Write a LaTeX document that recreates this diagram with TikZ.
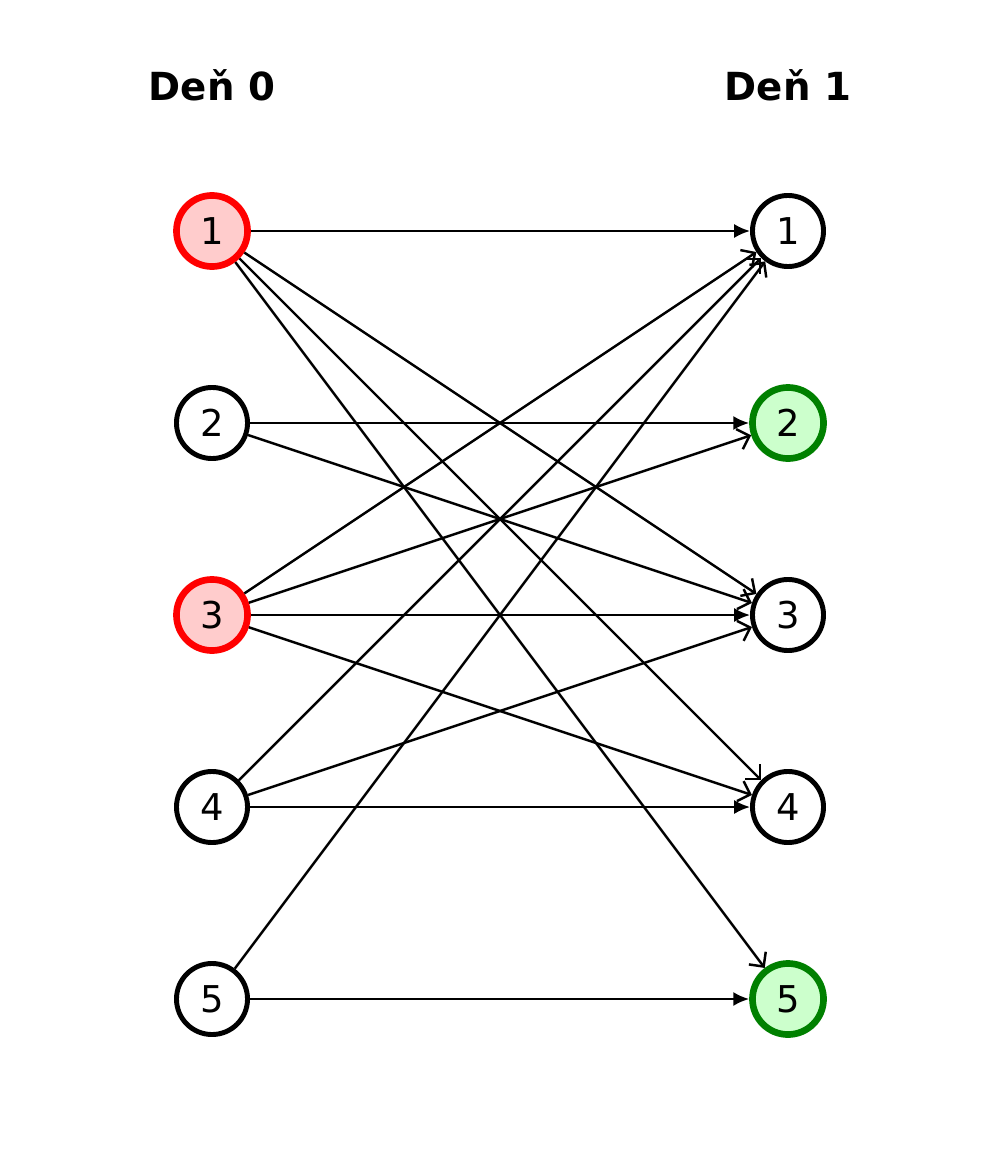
\documentclass[tikz,border=0pt]{standalone}
\usepackage{fontspec}
\setmainfont{DejaVu Sans}
\usetikzlibrary{arrows.meta,positioning}
\definecolor{redfill}{HTML}{FFCCCC}
\definecolor{greenfill}{HTML}{CCFFCC}
\definecolor{greenline}{HTML}{008000}

\begin{document}
\begin{tikzpicture}[x=0.01cm,y=-0.01cm,
        state/.style={
          circle, draw, line width=1.4pt,
          minimum size=0.71cm, inner sep=0pt,
          fill=white, font=\fontsize{10.5}{12}\selectfont
        },
        source/.style={state, draw=red, fill=redfill, line width=1.9pt},
        target/.style={state, draw=greenline, fill=greenfill, line width=1.9pt},
        flat/.style={-{Latex[length=4.5pt,width=4pt]}, line width=0.7pt},
        slant/.style={-{Straight Barb[length=3pt,width=6pt]}, line width=0.7pt},
        title/.style={font=\fontsize{11}{14}\selectfont\bfseries}
      ]
        \useasboundingbox (0,0) rectangle (1000,1173);

        % Day headers
        \node (day0) [title] at (212,85) {Deň 0};
        \node (day1) [title] at (788,85) {Deň 1};

        % Day 0 states
        \node (a1) [source] at (212,231) {1};
        \node (a2) [state]  at (212,423) {2};
        \node (a3) [source] at (212,615) {3};
        \node (a4) [state]  at (212,807) {4};
        \node (a5) [state]  at (212,999) {5};

        % Day 1 states
        \node (b1) [state]  at (788,231) {1};
        \node (b2) [target] at (788,423) {2};
        \node (b3) [state]  at (788,615) {3};
        \node (b4) [state]  at (788,807) {4};
        \node (b5) [target] at (788,999) {5};

        % Transitions
        \foreach \i in {1,...,5}
          \draw [flat] (a\i) -- (b\i);
        \foreach \i/\j in {1/3,1/4,1/5,2/3,3/1,3/2,3/4,4/1,4/3,5/1}
          \draw [slant] (a\i) -- (b\j);
\end{tikzpicture}
\end{document}
